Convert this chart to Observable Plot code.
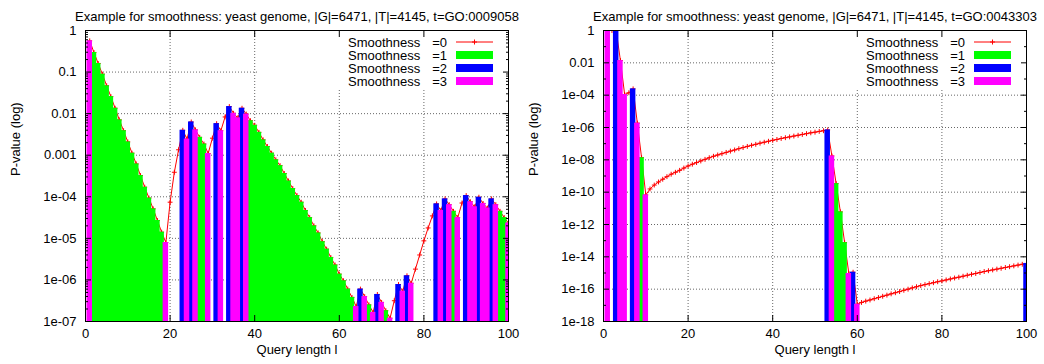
<!DOCTYPE html>
<html><head><meta charset="utf-8">
<script src="https://cdn.jsdelivr.net/npm/d3@7"></script>
<script src="https://cdn.jsdelivr.net/npm/@observablehq/plot@0.6"></script>
<style>
html,body{margin:0;padding:0;background:#fff;}
#wrap{display:flex;width:1044px;height:364px;overflow:hidden;}
#wrap svg{display:block;}
</style></head><body><div id="wrap"></div>
<script>
const FONT = "'Liberation Sans', Arial, Helvetica, sans-serif";

// ---------- texts ----------
const leftTitle = "Example for smoothness: yeast genome, |G|=6471, |T|=4145, t=GO:0009058";
const rightTitle = "Example for smoothness: yeast genome, |G|=6471, |T|=4145, t=GO:0043303";
const xLabel = "Query length l";
const yLabel = "P-value (log)";
const legendName = "Smoothness";
const legendLevels = ["=0", "=1", "=2", "=3"];
const levelColors = ["#ff0000", "#00ff00", "#0000ff", "#ff00ff"];

// ---------- ticks ----------
const xTicks = [0, 20, 40, 60, 80, 100];
const xTickLabels = ["0", "20", "40", "60", "80", "100"];
const leftYTicks = [1, 0.1, 0.01, 0.001, 1e-4, 1e-5, 1e-6, 1e-7];
const leftYTickLabels = ["1", "0.1", "0.01", "0.001", "1e-04", "1e-05", "1e-06", "1e-07"];
const leftMinorMantissas = [2, 3, 4, 5, 6, 7, 8, 9];
const rightYTicks = [1, 1e-2, 1e-4, 1e-6, 1e-8, 1e-10, 1e-12, 1e-14, 1e-16, 1e-18];
const rightYTickLabels = ["1", "0.01", "1e-04", "1e-06", "1e-08", "1e-10", "1e-12", "1e-14", "1e-16", "1e-18"];
const rightYMinorTicks = [1e-1, 1e-3, 1e-5, 1e-7, 1e-9, 1e-11, 1e-13, 1e-15, 1e-17];

// ---------- data: query length l = 1..100 ----------
const leftP = [
 0.565, 0.296, 0.161, 0.0891, 0.0468, 0.0257, 0.0135, 0.00708, 0.00389, 0.00209,
 0.00112, 6.17e-4, 3.24e-4, 1.70e-4, 9.33e-5, 5.13e-5, 2.69e-5, 1.41e-5, 7.94e-6, 7.41e-5,
 3.89e-4, 1.35e-3, 3.98e-3, 2.45e-3, 6.31e-3, 4.07e-3, 2.69e-3, 1.86e-3, 1.10e-3, 2.57e-3,
 5.75e-3, 3.89e-3, 8.32e-3, 1.48e-2, 1.02e-2, 7.94e-3, 1.35e-2, 9.77e-3, 6.76e-3, 5.25e-3,
 3.55e-3, 2.34e-3, 1.62e-3, 1.12e-3, 7.76e-4, 5.62e-4, 3.63e-4, 2.40e-4, 1.58e-4, 1.07e-4,
 7.41e-5, 4.68e-5, 3.16e-5, 2.00e-5, 1.35e-5, 8.32e-6, 5.50e-6, 3.47e-6, 2.29e-6, 1.38e-6,
 9.55e-7, 6.03e-7, 3.80e-7, 2.29e-7, 6.03e-7, 3.98e-7, 2.51e-7, 1.66e-7, 4.47e-7, 2.88e-7,
 1.82e-7, 1.20e-7, 3.16e-7, 7.76e-7, 5.37e-7, 1.26e-6, 8.32e-7, 1.82e-6, 3.98e-6, 8.71e-6,
 1.78e-5, 3.47e-5, 6.76e-5, 4.68e-5, 8.91e-5, 6.46e-5, 4.47e-5, 3.16e-5, 7.08e-5, 1.07e-4,
 7.59e-5, 5.75e-5, 9.77e-5, 6.92e-5, 5.37e-5, 8.91e-5, 6.46e-5, 4.47e-5, 3.16e-5, 2.34e-5
];
const leftLevel = [
 3,1,1,1,1,1,1,1,1,1,
 1,1,1,1,1,1,1,1,3,0,
 0,0,2,3,2,3,1,1,3,0,
 2,3,0,2,3,3,2,3,1,1,
 1,1,1,1,1,1,1,1,1,1,
 1,1,1,1,1,1,1,1,1,1,
 1,1,1,3,2,3,1,3,2,3,
 1,3,0,2,3,2,3,0,0,0,
 0,0,2,3,2,3,1,3,0,2,
 3,3,2,3,3,2,3,1,1,3
];
const rightP = [
 1, 1, 1, 1.38e-2, 1.10e-4, 1.41e-4, 2.45e-4, 1.86e-6, 1.35e-8, 6.76e-11,
 1.58e-10, 2.75e-10, 4.27e-10, 6.31e-10, 9.12e-10, 1.29e-9, 1.70e-9, 2.24e-9, 3.09e-9, 4.17e-9,
 5.37e-9, 6.76e-9, 8.51e-9, 1.07e-8, 1.35e-8, 1.66e-8, 2.00e-8, 2.40e-8, 2.88e-8, 3.47e-8,
 4.07e-8, 4.90e-8, 5.75e-8, 6.76e-8, 7.94e-8, 9.12e-8, 1.07e-7, 1.23e-7, 1.41e-7, 1.62e-7,
 1.82e-7, 2.09e-7, 2.34e-7, 2.63e-7, 2.95e-7, 3.31e-7, 3.72e-7, 4.17e-7, 4.68e-7, 5.13e-7,
 5.75e-7, 6.31e-7, 7.08e-7, 1.74e-8, 3.39e-10, 6.03e-12, 7.59e-14, 9.33e-16, 1.12e-15, 1.17e-17,
 1.51e-17, 1.82e-17, 2.14e-17, 2.57e-17, 3.02e-17, 3.63e-17, 4.27e-17, 5.13e-17, 6.03e-17, 7.08e-17,
 8.51e-17, 1.00e-16, 1.20e-16, 1.41e-16, 1.66e-16, 1.91e-16, 2.19e-16, 2.51e-16, 2.88e-16, 3.24e-16,
 3.72e-16, 4.27e-16, 4.90e-16, 5.50e-16, 6.31e-16, 7.24e-16, 8.32e-16, 9.33e-16, 1.07e-15, 1.23e-15,
 1.38e-15, 1.55e-15, 1.74e-15, 1.95e-15, 2.19e-15, 2.45e-15, 2.75e-15, 3.09e-15, 3.47e-15, 3.89e-15
];
const rightLevel = [
 3,0,2,3,3,0,2,3,1,3,
 0,0,0,0,0,0,0,0,0,0,
 0,0,0,0,0,0,0,0,0,0,
 0,0,0,0,0,0,0,0,0,0,
 0,0,0,0,0,0,0,0,0,0,
 0,0,2,3,1,1,1,3,2,3,
 0,0,0,0,0,0,0,0,0,0,
 0,0,0,0,0,0,0,0,0,0,
 0,0,0,0,0,0,0,0,0,0,
 0,0,0,0,0,0,0,0,0,2
];

// minor log ticks (2..9 x each decade) for the left panel
const leftYMinorTicks = leftYTicks.slice(1).flatMap(t => leftMinorMantissas.map(m => m * t));

// ---------- key (legend) drawn inside the frame, top-right ----------
function keyMark(background) {
  return (index, scales, values, dim) => {
    const R = dim.width - dim.marginRight;
    const top = dim.marginTop;
    const g = d3.create("svg:g");
    if (background) {
      g.append("rect").attr("x", R - 250).attr("y", top).attr("width", 250).attr("height", 58).attr("fill", "#fff");
      return g.node();
    }
    legendLevels.forEach((lv, i) => {
      const cy = top + 12 + 13 * i;
      g.append("text").attr("x", R - 160).attr("y", cy).attr("dy", "0.36em").attr("text-anchor", "start").attr("fill", "#000").text(legendName);
      g.append("text").attr("x", R - 61).attr("y", cy).attr("dy", "0.36em").attr("text-anchor", "end").attr("fill", "#000").text(lv);
      if (i === 0) {
        g.append("line").attr("x1", R - 52).attr("x2", R - 15).attr("y1", cy).attr("y2", cy).attr("stroke", levelColors[0]);
        g.append("path").attr("d", `M${R - 33.5},${cy - 2.5}v5M${R - 36},${cy}h5`).attr("stroke", levelColors[0]);
      } else {
        g.append("rect").attr("x", R - 52).attr("y", cy - 4).attr("width", 37).attr("height", 8).attr("fill", levelColors[i]);
      }
    });
    return g.node();
  };
}

function panel({title, p, level, yDomain, yTicks, yTickLabels, yMinor, marginLeft, marginRight}) {
  const data = p.map((v, i) => ({x: i + 1, p: v, level: level[i]}));
  const yMin = yDomain[0];
  const yFmt = new Map(yTicks.map((t, i) => [t, yTickLabels[i]]));
  const xFmt = new Map(xTicks.map((t, i) => [t, xTickLabels[i]]));
  const bars = (lv) => Plot.rect(data.filter(d => d.level === lv), {
    x1: d => d.x - 0.65, x2: d => d.x + 0.65, y1: yMin, y2: "p",
    fill: levelColors[lv], clip: true
  });
  const gridStyle = {stroke: "#000", strokeOpacity: 0.6, strokeDasharray: "1,2", strokeWidth: 1};
  const marks = [
    Plot.gridX(xTicks, gridStyle),
    Plot.gridY(yTicks, gridStyle),
    keyMark(true),
    Plot.line(data, {x: "x", y: "p", stroke: levelColors[0], strokeWidth: 1, clip: true}),
    Plot.dot(data, {x: "x", y: "p", symbol: "plus", stroke: levelColors[0], r: 1.7, strokeWidth: 1, clip: true}),
    bars(1), bars(2), bars(3),
    keyMark(false),
    Plot.frame({stroke: "#000", strokeWidth: 1}),
    Plot.axisX(xTicks, {anchor: "bottom", tickSize: -6, tickPadding: 13, label: null, tickFormat: d => xFmt.get(d), fontSize: 13}),
    Plot.axisX(xTicks, {anchor: "top", tickSize: -6, label: null, tickFormat: () => ""}),
    Plot.axisY(yTicks, {anchor: "left", tickSize: -6, tickPadding: 15, label: null, tickFormat: d => yFmt.get(d), fontSize: 13}),
    Plot.axisY(yTicks, {anchor: "right", tickSize: -6, label: null, tickFormat: () => ""}),
    Plot.axisY(yMinor, {anchor: "left", tickSize: -3, label: null, tickFormat: () => ""}),
    Plot.axisY(yMinor, {anchor: "right", tickSize: -3, label: null, tickFormat: () => ""}),
    Plot.text([title], {text: d => d, frameAnchor: "top", dy: -19, fontSize: 13, fill: "#000"}),
    Plot.text([xLabel], {text: d => d, frameAnchor: "bottom", dy: 32, fontSize: 13, fill: "#000"}),
    Plot.text([yLabel], {text: d => d, frameAnchor: "left", dx: -70, rotate: -90, fontSize: 13, fill: "#000"})
  ];
  return Plot.plot({
    width: 522, height: 364,
    marginLeft, marginRight, marginTop: 30, marginBottom: 43,
    style: {fontFamily: FONT, fontSize: "13px", color: "#000", background: "#fff", overflow: "visible"},
    x: {domain: [0, 100]},
    y: {type: "log", domain: yDomain},
    marks
  });
}

const wrap = document.getElementById("wrap");
wrap.append(panel({
  title: leftTitle, p: leftP, level: leftLevel, yDomain: [1e-7, 1],
  yTicks: leftYTicks, yTickLabels: leftYTickLabels, yMinor: leftYMinorTicks,
  marginLeft: 85, marginRight: 14
}));
wrap.append(panel({
  title: rightTitle, p: rightP, level: rightLevel, yDomain: [1e-18, 1],
  yTicks: rightYTicks, yTickLabels: rightYTickLabels, yMinor: rightYMinorTicks,
  marginLeft: 81, marginRight: 18
}));
</script></body></html>
